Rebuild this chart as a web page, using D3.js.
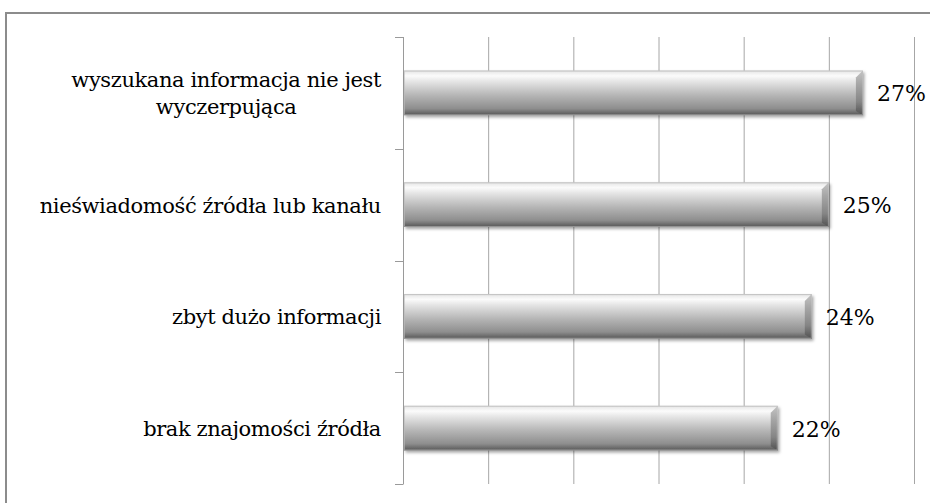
<!DOCTYPE html>
<html>
<head>
<meta charset="utf-8">
<script src="https://cdn.jsdelivr.net/npm/d3@7"></script>
<style>
  html, body { margin: 0; padding: 0; background: #fff; }
  svg { display: block; }
  text { font-family: "DejaVu Serif", serif; fill: #000; }
</style>
</head>
<body>
<svg id="chart" width="930" height="503"></svg>
<script>
// Reasons respondents gave for difficulties with information (share of answers, %)
const categories = [
  ["wyszukana informacja nie jest", "wyczerpująca"],
  ["nieświadomość źródła lub kanału"],
  ["zbyt dużo informacji"],
  ["brak znajomości źródła"]
];
const values = [27, 25, 24, 22];
const gridTicks = [5, 10, 15, 20, 25, 30];
const valueLabels = ["27%", "25%", "24%", "22%"];

const svg = d3.select("#chart");
const W = 930, H = 503;
const plotLeft = 403, plotRight = 914, plotTop = 37, plotBottom = 484;
const fontSize = 21;

svg.append("rect").attr("width", W).attr("height", H).attr("fill", "#fff");

// outer chart frame (runs off the right and bottom edges)
svg.append("rect")
  .attr("x", 6).attr("y", 13)
  .attr("width", W + 20).attr("height", H + 20)
  .attr("fill", "none").attr("stroke", "#8c8c8c").attr("stroke-width", 2);

const keys = categories.map((c, i) => "c" + i);

const x = d3.scaleLinear().domain([0, 30]).range([plotLeft, plotRight]);
const y = d3.scaleBand().domain(keys).range([plotTop, plotBottom]).paddingInner(0.6).paddingOuter(0.3);
const yCell = d3.scaleBand().domain(keys).range([plotTop, plotBottom]).padding(0);

const defs = svg.append("defs");

const g1 = defs.append("linearGradient").attr("id", "barFill")
  .attr("x1", 0).attr("y1", 0).attr("x2", 0).attr("y2", 1);
[[0, "#cdcdcd"], [0.04, "#ececec"], [0.12, "#fbfbfb"], [0.25, "#e4e4e4"],
 [0.55, "#b6b6b6"], [0.85, "#8e8e8e"], [0.94, "#6c6c6c"], [1, "#575757"]]
  .forEach(([o, c]) => g1.append("stop").attr("offset", o).attr("stop-color", c));

const g2 = defs.append("linearGradient").attr("id", "bevelRight")
  .attr("x1", 0).attr("y1", 0).attr("x2", 0).attr("y2", 1);
[[0, "#c4c4c4"], [0.3, "#a6a6a6"], [0.7, "#858585"], [1, "#505050"]]
  .forEach(([o, c]) => g2.append("stop").attr("offset", o).attr("stop-color", c));

const shadow = defs.append("filter").attr("id", "shadow")
  .attr("x", "-5%").attr("y", "-20%").attr("width", "115%").attr("height", "160%");
shadow.append("feDropShadow").attr("dx", 1.5).attr("dy", 2).attr("stdDeviation", 1.6)
  .attr("flood-color", "#000").attr("flood-opacity", 0.35);

// vertical gridlines
svg.append("g").selectAll("line").data(gridTicks).join("line")
  .attr("x1", d => x(d) + 0.5).attr("x2", d => x(d) + 0.5)
  .attr("y1", plotTop).attr("y2", plotBottom)
  .attr("stroke", "#a6a6a6").attr("stroke-width", 1);

// category axis with ticks on cell boundaries
const axis = svg.append("g").attr("stroke", "#9a9a9a").attr("stroke-width", 1);
axis.append("line").attr("x1", plotLeft + 0.5).attr("x2", plotLeft + 0.5)
  .attr("y1", plotTop).attr("y2", plotBottom);
const bounds = keys.map(k => yCell(k)).concat([plotBottom]);
axis.selectAll("line.tick").data(bounds).join("line").attr("class", "tick")
  .attr("x1", plotLeft - 8).attr("x2", plotLeft + 0.5)
  .attr("y1", d => Math.round(d) + 0.5).attr("y2", d => Math.round(d) + 0.5);

// bars
const bw = y.bandwidth();
const bev = 7;
const bars = svg.append("g").selectAll("g").data(values).join("g")
  .attr("filter", "url(#shadow)");
bars.append("rect")
  .attr("x", x(0) + 1).attr("y", (d, i) => y(keys[i]))
  .attr("width", d => x(d) - x(0) - 1).attr("height", bw)
  .attr("fill", "url(#barFill)");
// right bevel
bars.append("polygon")
  .attr("points", (d, i) => {
    const x1 = x(d), y0 = y(keys[i]), y1 = y0 + bw;
    return [[x1, y0], [x1, y1], [x1 - bev, y1 - bev * 0.6], [x1 - bev, y0 + bev]].join(" ");
  })
  .attr("fill", "url(#bevelRight)");
// thin outline
bars.append("rect")
  .attr("x", x(0) + 1.5).attr("y", (d, i) => y(keys[i]) + 0.5)
  .attr("width", d => x(d) - x(0) - 2).attr("height", bw - 1)
  .attr("fill", "none").attr("stroke", "#bdbdbd").attr("stroke-opacity", 0.6);

// value labels
svg.append("g").selectAll("text").data(values).join("text")
  .attr("x", d => x(d) + 14)
  .attr("y", (d, i) => y(keys[i]) + bw / 2 + 8.5)
  .attr("font-size", 22)
  .text((d, i) => valueLabels[i]);

// category labels, lines centred on each other, block right-aligned
const labelRight = 381;
const lineH = 27;
categories.forEach((lines, i) => {
  const cy = y(keys[i]) + bw / 2;
  const t = svg.append("text").attr("font-size", fontSize).attr("text-anchor", "middle")
    .attr("letter-spacing", -0.4);
  const spans = lines.map((s, j) => t.append("tspan").text(s)
    .attr("y", cy + 8 + (j - (lines.length - 1) / 2) * lineH));
  const maxW = d3.max(spans, s => s.node().getComputedTextLength());
  spans.forEach(s => s.attr("x", labelRight - maxW / 2));
});
</script>
</body>
</html>
